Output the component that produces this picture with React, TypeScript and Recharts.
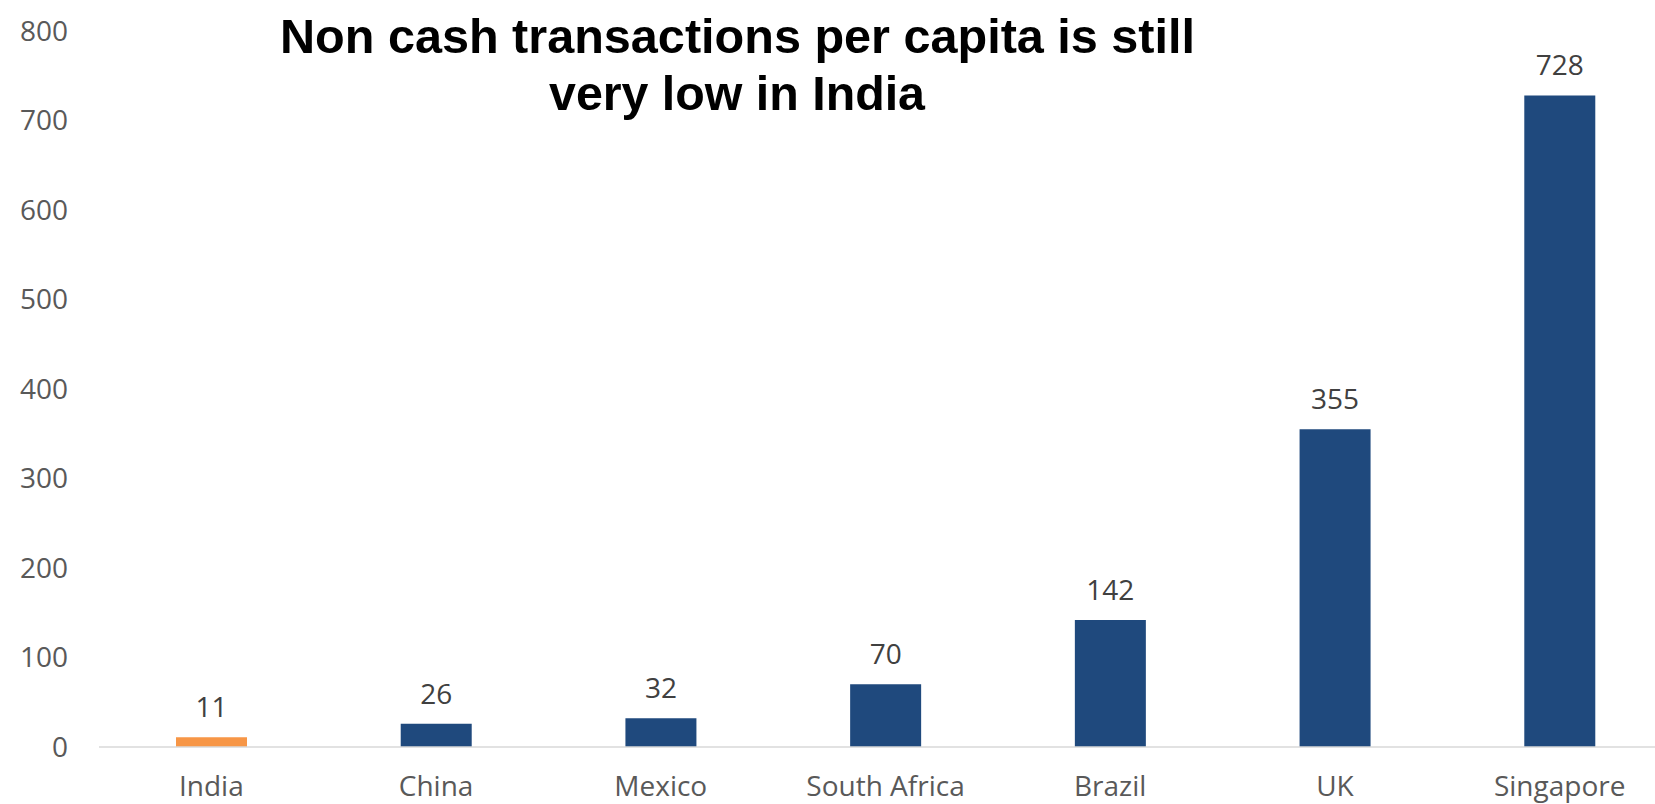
import React from "react";
import { BarChart, Bar, XAxis, YAxis, Cell, LabelList } from "recharts";

const categories = ["India", "China", "Mexico", "South Africa", "Brazil", "UK", "Singapore"];
const values = [11, 26, 32, 70, 142, 355, 728];
const barColors = ["#F79646", "#1F497D", "#1F497D", "#1F497D", "#1F497D", "#1F497D", "#1F497D"];
const yTicks = [0, 100, 200, 300, 400, 500, 600, 700, 800];
const titleLines = ["Non cash transactions per capita is still", "very low in India"];

const data = categories.map((name, i) => ({ name, value: values[i] }));

export default function App() {
  return (
    <div
      style={{
        position: "absolute",
        left: 0,
        top: 0,
        width: 1655,
        height: 804,
        overflow: "hidden",
        background: "#ffffff",
      }}
    >
      <BarChart
        width={1680}
        height={804}
        data={data}
        margin={{ top: 31, right: 8, bottom: 0, left: 0 }}
        barSize={71}
      >
        <YAxis
          domain={[0, 800]}
          ticks={yTicks}
          interval={0}
          width={99}
          axisLine={false}
          tickLine={false}
          tickSize={0}
          tickMargin={31}
          tick={{ fill: "#595959", fontSize: 28, fontFamily: "Open Sans" }}
        />
        <XAxis
          dataKey="name"
          height={57}
          interval={0}
          tickLine={false}
          tickSize={0}
          tickMargin={29}
          axisLine={{ stroke: "#D9D9D9", strokeWidth: 1.5 }}
          tick={{ fill: "#595959", fontSize: 28, fontFamily: "Open Sans" }}
        />
        <Bar dataKey="value" isAnimationActive={false}>
          {data.map((d, i) => (
            <Cell key={d.name} fill={barColors[i]} />
          ))}
          <LabelList
            dataKey="value"
            position="top"
            offset={20}
            fill="#404040"
            fontSize={28}
            fontFamily="Open Sans"
          />
        </Bar>
      </BarChart>
      <svg
        width={1655}
        height={804}
        style={{ position: "absolute", left: 0, top: 0, pointerEvents: "none" }}
      >
        <text
          x={280}
          y={53}
          textLength={915}
          lengthAdjust="spacingAndGlyphs"
          fontFamily="Liberation Sans"
          fontWeight="bold"
          fontSize={48}
          fill="#000000"
        >
          {titleLines[0]}
        </text>
        <text
          x={549}
          y={110}
          textLength={376}
          lengthAdjust="spacingAndGlyphs"
          fontFamily="Liberation Sans"
          fontWeight="bold"
          fontSize={48}
          fill="#000000"
        >
          {titleLines[1]}
        </text>
      </svg>
    </div>
  );
}
